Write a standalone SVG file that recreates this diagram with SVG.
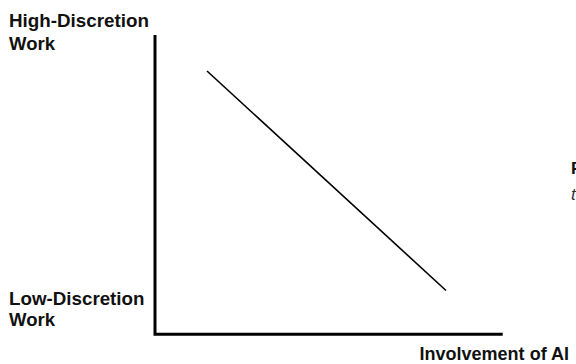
<svg xmlns="http://www.w3.org/2000/svg" width="576" height="364" viewBox="0 0 576 364">
<style>
.lbl{font-family:"Liberation Sans",Arial,sans-serif;font-weight:bold;font-size:18.5px;fill:#111}
.axis{stroke:#000;stroke-width:3;fill:none}
.trend{stroke:#000;stroke-width:1.6;fill:none}
</style>
<rect width="576" height="364" fill="#fff"/>
<g id="axes">
<path class="axis" d="M155,35 V334.3 H502.7"/>
</g>
<g id="connectors">
<line class="trend" x1="207" y1="71" x2="446" y2="290.5"/>
</g>
<g id="high-label">
<text class="lbl" x="9" y="27" textLength="140" lengthAdjust="spacingAndGlyphs">High-Discretion</text>
<text class="lbl" x="9" y="50">Work</text>
</g>
<g id="low-label">
<text class="lbl" x="9" y="305" textLength="135.5" lengthAdjust="spacingAndGlyphs">Low-Discretion</text>
<text class="lbl" x="9" y="326">Work</text>
</g>
<g id="x-label">
<text class="lbl" x="419.5" y="359.5" textLength="149.5" lengthAdjust="spacingAndGlyphs">Involvement of AI</text>
</g>
<g id="side-text">
<text x="571" y="174" style="font-family:'Liberation Sans',Arial,sans-serif;font-weight:bold;font-size:17px;fill:#111">F</text>
<text x="571" y="200" style="font-family:'Liberation Sans',Arial,sans-serif;font-style:italic;font-size:17px;fill:#333">t</text>
</g>
</svg>
